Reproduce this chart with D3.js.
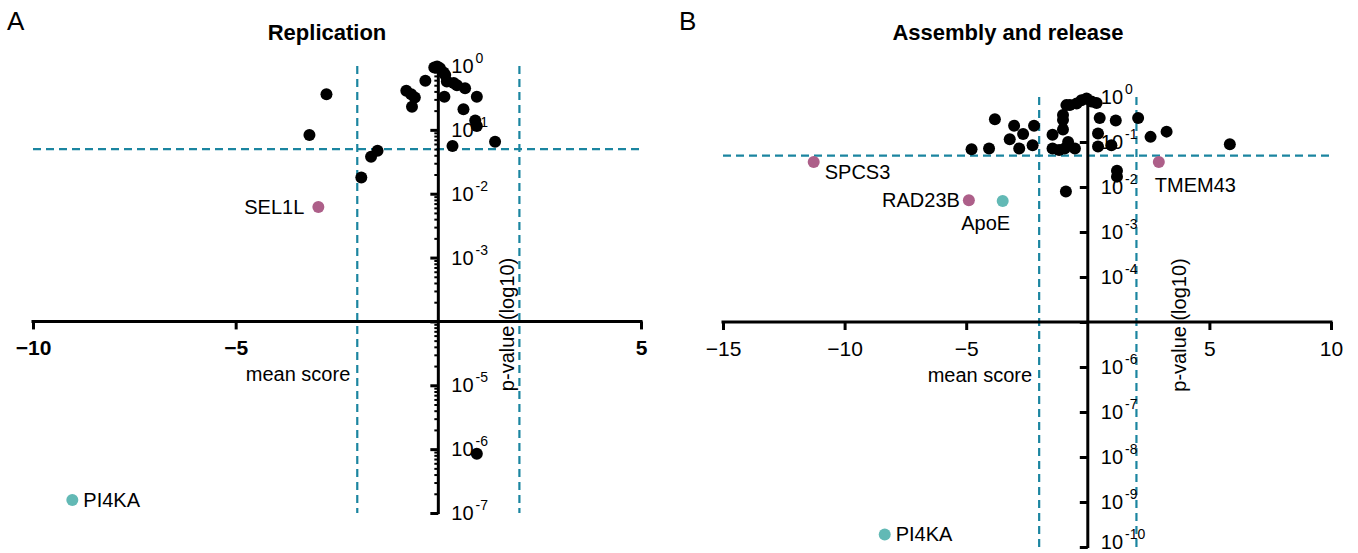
<!DOCTYPE html>
<html>
<head>
<meta charset="utf-8">
<script src="https://cdn.jsdelivr.net/npm/d3@7"></script>
<style>
  body { margin: 0; background: #fff; }
  svg { font-family: "Liberation Sans", Arial, sans-serif; }
</style>
</head>
<body>
<div id="chart"></div>
<script>
// Panel A - Replication
const repScore = [-2.76, -3.18, -1.9, -1.66, -1.5, -0.79, -0.67, -0.58, -0.65, -0.32,
  -0.1, -0.03, 0.04, 0.13, 0.17, 0.21, 0.15, 0.38, 0.46, 0.66, 0.95, 0.62, 0.91, 0.95, 0.35, 1.4, 0.95];
const repP = [0.36, 0.083, 0.018, 0.038, 0.047, 0.41, 0.36, 0.32, 0.23, 0.59,
  0.95, 0.98, 0.92, 0.79, 0.72, 0.57, 0.33, 0.54, 0.50, 0.45, 0.33, 0.21, 0.14, 0.115, 0.056, 0.065, 8.5e-7];
const repHitNames = ["SEL1L", "PI4KA"];
const repHitScore = [-2.96, -9.03];
const repHitP = [0.0062, 1.6e-7];
const repHitType = ["gene", "control"];

// Panel B - Assembly and release
const asmScore = [-4.78, -4.06, -3.82, -3.03, -3.21, -2.66, -2.82, -2.27, -2.21, -1.45, -1.45, -1.18,
  -1.02, -1.02, -1.02, -0.88, -0.81, -0.95, -0.53, -0.74, -0.46, -0.26, -0.05, 0.15, 0.36, 0.49,
  0.42, 0.42, 0.97, 1.15, 2.07, 2.58, 3.24, 5.84, 1.2, 1.2, -0.9];
const asmP = [0.069, 0.072, 0.32, 0.23, 0.115, 0.15, 0.072, 0.085, 0.23, 0.145, 0.072, 0.066,
  0.19, 0.31, 0.40, 0.66, 0.10, 0.072, 0.072, 0.66, 0.72, 0.85, 0.93, 0.79, 0.74, 0.34,
  0.155, 0.079, 0.085, 0.30, 0.34, 0.13, 0.17, 0.089, 0.023, 0.017, 0.0079];
const asmHitNames = ["SPCS3", "RAD23B", "ApoE", "TMEM43", "PI4KA"];
const asmHitScore = [-11.27, -4.89, -3.5, 2.92, -8.35];
const asmHitP = [0.036, 0.0051, 0.0049, 0.036, 1.9e-10];
const asmHitType = ["gene", "gene", "control", "gene", "control"];

const repXTicks = [-10, -5, 5];
const asmXTicks = [-15, -10, -5, 5, 10];
const repYLabels = [0, -1, -2, -3, -5, -6, -7];
const asmYLabels = [0, -1, -2, -3, -4, -6, -7, -8, -9, -10];

const pCut = 0.05, scoreCut = 2;
const colors = { gene: "#ad5f89", control: "#62b9b5", dash: "#1b85a0" };

// label placement: [dx, dy, anchor]
const labelPos = {
  "A:SEL1L": [-14, 7, "end"], "A:PI4KA": [11, 7, "start"],
  "B:SPCS3": [11, 17, "start"], "B:RAD23B": [-9, 7, "end"], "B:ApoE": [-17, 29, "middle"],
  "B:TMEM43": [-4, 30, "start"], "B:PI4KA": [11, 7, "start"]
};

const W = 1358, H = 553;
const svg = d3.select("#chart").append("svg").attr("width", W).attr("height", H);

function panel(cfg) {
  const x = d3.scaleLinear().domain(cfg.xDomain).range(cfg.xRange);
  const y = d3.scaleLog().domain(cfg.yDomain).range(cfg.yRange);
  const g = svg.append("g");
  const x0 = x(0);
  const xAxisY = y(cfg.xAxisAt);

  // letter + title
  svg.append("text").attr("x", cfg.letterX).attr("y", 30).attr("font-size", 26).text(cfg.letter);
  svg.append("text").attr("x", cfg.titleX).attr("y", 40).attr("text-anchor", "middle")
    .attr("font-size", 22).attr("font-weight", "bold").text(cfg.title);

  // dashed thresholds
  const dash = g.append("g").attr("stroke", colors.dash).attr("stroke-width", 2.2).attr("stroke-dasharray", "8,5");
  dash.append("line").attr("x1", cfg.xRange[0]).attr("x2", cfg.xRange[1]).attr("y1", y(pCut)).attr("y2", y(pCut));
  [-scoreCut, scoreCut].forEach(s => {
    dash.append("line").attr("x1", x(s)).attr("x2", x(s)).attr("y1", cfg.yRange[1]).attr("y2", cfg.yRange[0]);
  });

  // y axis (log)
  const yMinor = y.ticks().filter(t => Math.abs(Math.log10(t) - Math.round(Math.log10(t))) > 1e-6);
  const yMajor = d3.range(Math.log10(cfg.yDomain[0]), 1).map(e => Math.pow(10, e));
  g.append("g").attr("transform", `translate(${x0},0)`)
    .call(d3.axisLeft(y).tickValues(yMinor).tickSize(4).tickFormat(""))
    .call(a => a.select(".domain").remove())
    .call(a => a.selectAll("line").attr("stroke-width", 2));
  g.append("g").attr("transform", `translate(${x0},0)`)
    .call(d3.axisLeft(y).tickValues(yMajor).tickSize(8).tickFormat(""))
    .call(a => a.select(".domain").remove())
    .call(a => a.selectAll("line").attr("stroke-width", 3));
  g.append("line").attr("x1", x0).attr("x2", x0).attr("y1", cfg.yRange[1] - 1).attr("y2", cfg.yRange[0] + 1)
    .attr("stroke", "#000").attr("stroke-width", 3);

  const yl = g.append("g").attr("font-size", 20);
  cfg.yLabels.forEach(e => {
    const t = yl.append("text").attr("x", x0 + 13).attr("y", Math.min(y(Math.pow(10, e)) + 7, H - 4));
    t.append("tspan").text("10");
    t.append("tspan").attr("font-size", 14).attr("dx", 2).attr("dy", -10).text(e === 0 ? "0" : "-" + (-e));
  });

  // x axis
  g.append("g").attr("transform", `translate(0,${xAxisY})`)
    .call(d3.axisBottom(x).tickValues(cfg.xTicks).tickSize(8).tickPadding(11))
    .call(a => a.select(".domain").remove())
    .call(a => a.selectAll("line").attr("stroke-width", 3))
    .call(a => a.selectAll("text").attr("font-size", 21).attr("fill", "#000")
      .attr("font-weight", cfg.boldX ? "bold" : "normal")
      .attr("font-family", "'Liberation Sans', Arial, sans-serif"));
  g.append("line").attr("x1", cfg.xRange[0] - 1.5).attr("x2", cfg.xRange[1] + 1.5)
    .attr("y1", xAxisY).attr("y2", xAxisY).attr("stroke", "#000").attr("stroke-width", 3);

  // axis titles
  g.append("text").attr("x", x(-scoreCut) - 7).attr("y", xAxisY + 60).attr("text-anchor", "end")
    .attr("font-size", 20).text("mean score");
  g.append("text").attr("transform", `translate(${cfg.pLabelX},${xAxisY + 3}) rotate(-90)`)
    .attr("text-anchor", "middle").attr("font-size", 20).text("p-value (log10)");

  // points
  g.append("g").selectAll("circle").data(cfg.score).join("circle")
    .attr("cx", d => x(d)).attr("cy", (d, i) => y(cfg.p[i])).attr("r", 6).attr("fill", "#000");

  cfg.hitNames.forEach((n, i) => {
    const cx = x(cfg.hitScore[i]), cy = y(cfg.hitP[i]);
    g.append("circle").attr("cx", cx).attr("cy", cy).attr("r", 6).attr("fill", colors[cfg.hitType[i]]);
    const lp = labelPos[cfg.letter + ":" + n];
    g.append("text").attr("x", cx + lp[0]).attr("y", cy + lp[1]).attr("text-anchor", lp[2])
      .attr("font-size", 20).text(n);
  });
}

panel({
  letter: "A", letterX: 7, title: "Replication", titleX: 327,
  xDomain: [-10, 5], xRange: [33, 641], yDomain: [1e-7, 1], yRange: [513, 66], xAxisAt: 1e-4,
  xTicks: repXTicks, yLabels: repYLabels, boldX: true, pLabelX: 514,
  score: repScore, p: repP, hitNames: repHitNames, hitScore: repHitScore, hitP: repHitP, hitType: repHitType
});
panel({
  letter: "B", letterX: 679, title: "Assembly and release", titleX: 1008,
  xDomain: [-15, 10], xRange: [723, 1331], yDomain: [1e-10, 1], yRange: [547, 97], xAxisAt: 1e-5,
  xTicks: asmXTicks, yLabels: asmYLabels, boldX: false, pLabelX: 1186,
  score: asmScore, p: asmP, hitNames: asmHitNames, hitScore: asmHitScore, hitP: asmHitP, hitType: asmHitType
});
</script>
</body>
</html>
